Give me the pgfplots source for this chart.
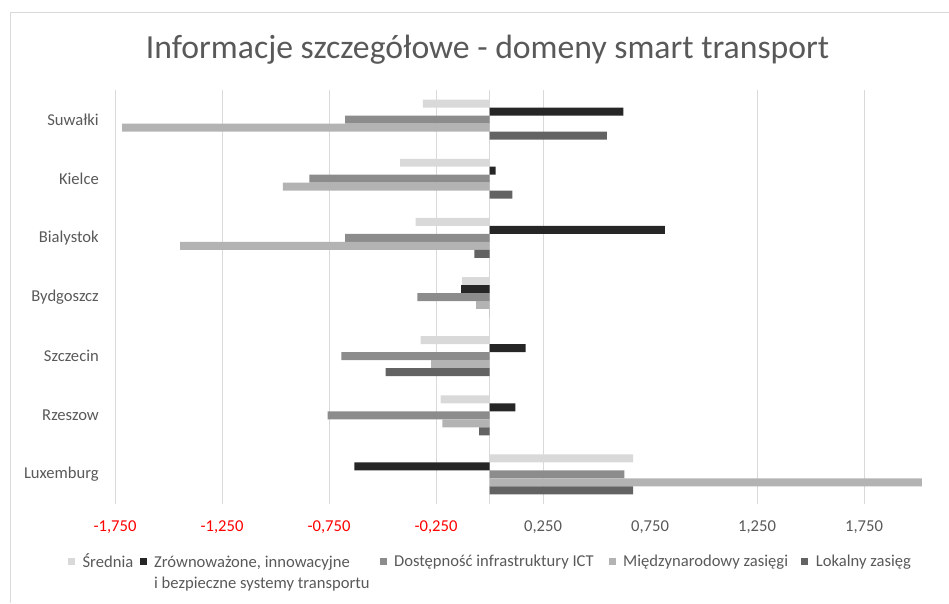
\documentclass[border=0pt]{standalone}
\usepackage{fontspec}
\setmainfont{Carlito}
\usepackage{pgfplots}
\usepackage{pgfplotstable}
\pgfplotsset{compat=1.18}
\definecolor{cSr}{HTML}{D9D9D9}
\definecolor{cZr}{HTML}{262626}
\definecolor{cDo}{HTML}{8C8C8C}
\definecolor{cMi}{HTML}{B3B3B3}
\definecolor{cLo}{HTML}{636363}
\definecolor{txt}{HTML}{595959}
\definecolor{gridc}{HTML}{D9D9D9}
\definecolor{negred}{HTML}{FF0000}

\pgfplotstableread{
y sr zr do mi lo
0 -0.311 0.625 -0.675 -1.717 0.548
1 -0.418 0.029 -0.842 -0.965 0.107
2 -0.345 0.820 -0.675 -1.446 -0.071
3 -0.128 -0.133 -0.337 -0.062 0.000
4 -0.322 0.169 -0.692 -0.273 -0.485
5 -0.228 0.121 -0.756 -0.220 -0.048
6 0.671 -0.632 0.630 2.020 0.671
}\data

\begin{document}
\begin{tikzpicture}[x=1pt,y=1pt]
\useasboundingbox (0,0) rectangle (949,-603);
\draw[gridc, line width=1pt] (10,-603) -- (10,-12) -- (949,-12);
\node[text=txt, font=\fontsize{33.7}{40}\selectfont, anchor=base] at (487.5,-58.5) {Informacje szczegółowe - domeny smart transport};
\begin{axis}[
  at={(115pt,-90pt)}, anchor=north west,
  scale only axis, width=834.6pt, height=414pt,
  xmin=-1.75, xmax=2.15, ymin=-0.5, ymax=6.5, y dir=reverse,
  axis line style={draw=none}, tick style={draw=none},
  ytick={0,1,2,3,4,5,6},
  yticklabels={Suwałki,Kielce,Bialystok,Bydgoszcz,Szczecin,Rzeszow,Luxemburg},
  yticklabel style={font=\fontsize{16.6}{20}\selectfont, text=txt, anchor=east, inner sep=0pt, xshift=-16pt},
  xtick={-1.75,-1.25,-0.75,-0.25,0.25,0.75,1.25,1.75},
  xticklabels={{\color{negred}-1,750},{\color{negred}-1,250},{\color{negred}-0,750},{\color{negred}-0,250},{0,250},{0,750},{1,250},{1,750}},
  xticklabel style={font=\fontsize{16.6}{20}\selectfont, text=txt, anchor=north, inner sep=0pt, yshift=-17pt},
  extra x ticks={-1.75,-1.25,-0.75,-0.25,0,0.25,1.25,1.75},
  extra x tick labels={},
  extra x tick style={xmajorgrids=true, major grid style={draw=gridc, line width=1pt}},
  legend columns=5,
  legend cell align=left,
  legend style={draw=none, fill=none, inner sep=0pt, at={(-0.0563,-0.1184)}, anchor=north west,
    font=\fontsize{16.6}{20.7}\selectfont, text=txt,
    nodes={inner sep=0pt},
    /tikz/every odd column/.append style={column sep=7.4pt},
    /tikz/column 2/.style={column sep=6.5pt},
    /tikz/column 4/.style={column sep=10pt},
    /tikz/column 6/.style={column sep=15pt},
    /tikz/column 8/.style={column sep=13.4pt}},
  legend image code/.code={\fill[#1, draw=none] (0pt,-3.5pt) rectangle (7pt,3.5pt);},
]
\addplot[xbar, bar width=0.135, bar shift=-0.27, fill=cSr, draw=none] table[x=sr, y=y] {\data};
\addplot[xbar, bar width=0.135, bar shift=-0.135, fill=cZr, draw=none] table[x=zr, y=y] {\data};
\addplot[xbar, bar width=0.135, bar shift=0, fill=cDo, draw=none] table[x=do, y=y] {\data};
\addplot[xbar, bar width=0.135, bar shift=0.135, fill=cMi, draw=none] table[x=mi, y=y] {\data};
\addplot[xbar, bar width=0.135, bar shift=0.27, fill=cLo, draw=none] table[x=lo, y=y] {\data};
\addlegendentry{Średnia}
\addlegendentry{\begin{tabular}[t]{@{}l@{}}Zrównoważone, innowacyjne\\i bezpieczne systemy transportu\end{tabular}}
\addlegendentry{Dostępność infrastruktury ICT}
\addlegendentry{Międzynarodowy zasięgi}
\addlegendentry{Lokalny zasięg}
\end{axis}
\end{tikzpicture}
\end{document}
